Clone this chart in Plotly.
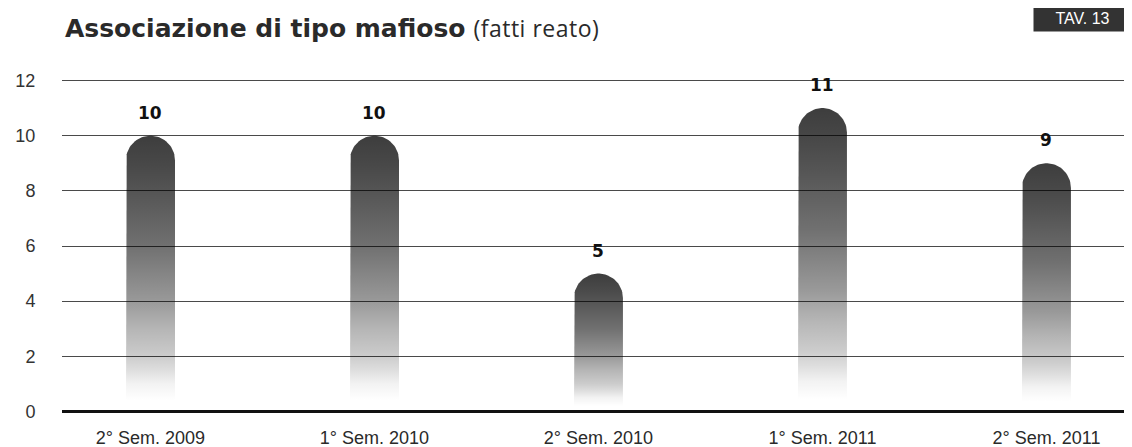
import numpy as np
import plotly.graph_objects as go

# ---- data ----
categories = ["2° Sem. 2009", "1° Sem. 2010", "2° Sem. 2010", "1° Sem. 2011", "2° Sem. 2011"]
values = [10, 10, 5, 11, 9]
y_ticks = [0, 2, 4, 6, 8, 10, 12]
title_bold = "Associazione di tipo mafioso"
title_rest = "(fatti reato)"
table_tag = "TAV. 13"

# ---- layout constants (page body has an 8px margin) ----
W, H = 1124, 439
ML, MR, MT, MB = 54, 0, 67, 30
X_RANGE = [-0.395, 4.382]
Y_RANGE = [-0.2, 12.2]
PW, PH = W - ML - MR, H - MT - MB
px_per_x = PW / (X_RANGE[1] - X_RANGE[0])
px_per_y = PH / (Y_RANGE[1] - Y_RANGE[0])
BAR_HALF_PX = 24.5
hw = BAR_HALF_PX / px_per_x          # half width in x units
ry = BAR_HALF_PX / px_per_y          # cap radius in y units

grad = [
    [0.00, "rgba(0,0,0,0)"],
    [0.04, "rgba(0,0,0,0.0)"],
    [0.10, "rgba(0,0,0,0.05)"],
    [0.15, "rgba(0,0,0,0.13)"],
    [0.20, "rgba(0,0,0,0.20)"],
    [0.30, "rgba(0,0,0,0.29)"],
    [0.40, "rgba(0,0,0,0.40)"],
    [0.60, "rgba(0,0,0,0.56)"],
    [0.80, "rgba(0,0,0,0.67)"],
    [0.90, "rgba(0,0,0,0.72)"],
    [1.00, "rgba(0,0,0,0.76)"],
]

fig = go.Figure()
theta = np.linspace(np.pi, 0, 40)
for i, v in enumerate(values):
    xs = [i - hw, i - hw]
    ys = [0, v - ry]
    xs += list(i + hw * np.cos(theta))
    ys += list(v - ry + ry * np.sin(theta))
    xs += [i + hw, i + hw, i - hw]
    ys += [v - ry, 0, 0]
    fig.add_trace(go.Scatter(
        x=xs, y=ys, mode="lines", fill="toself",
        line=dict(width=0, color="rgba(0,0,0,0)"),
        fillgradient=dict(type="vertical", colorscale=grad, start=0, stop=v),
        hoverinfo="skip", showlegend=False,
    ))
    fig.add_annotation(
        x=i, y=v, xref="x", yref="y", text=f"<b>{v}</b>", showarrow=False,
        yshift=23, font=dict(family="DejaVu Sans", size=17, color="#111"),
    )

fig.update_layout(
    width=W, height=H, autosize=False,
    margin=dict(l=ML, r=MR, t=MT, b=MB, pad=0, autoexpand=False),
    paper_bgcolor="white", plot_bgcolor="white",
    showlegend=False,
    xaxis=dict(
        range=X_RANGE, tickvals=list(range(len(categories))), ticktext=categories,
        showgrid=False, zeroline=False, showline=False, automargin=False,
        ticks="outside", ticklen=4, tickcolor="rgba(0,0,0,0)",
        tickfont=dict(family="Liberation Sans", size=18, color="#2a2a2a"),
    ),
    yaxis=dict(
        range=Y_RANGE, tickvals=y_ticks, automargin=False,
        showgrid=True, gridcolor="#4a4a4a", gridwidth=1,
        zeroline=True, zerolinecolor="#111", zerolinewidth=3,
        showline=False,
        ticks="outside", ticklen=22, tickcolor="rgba(0,0,0,0)",
        tickfont=dict(family="Liberation Sans", size=18, color="#333"),
    ),
)

fig.add_annotation(
    xref="paper", yref="paper",
    x=(55 - ML) / PW, y=(H - MB - 20) / PH,
    xanchor="left", yanchor="middle", showarrow=False,
    text=(f'<span style="font-family:DejaVu Sans;font-weight:bold;font-size:25px">{title_bold}</span>'
          f' <span style="font-family:Open Sans;font-size:23px;letter-spacing:0.5px">{title_rest}</span>'),
    font=dict(family="DejaVu Sans", size=25, color="#2a2a2a"),
)

fig.add_annotation(
    xref="paper", yref="paper",
    x=(1074.5 - ML) / PW, y=(H - MB - 10.5) / PH,
    xanchor="center", yanchor="middle", showarrow=False,
    text=table_tag, width=91, height=20, borderpad=3,
    bgcolor="#333", font=dict(family="Liberation Sans", size=16, color="white"),
)

fig.write_html("out.html")
